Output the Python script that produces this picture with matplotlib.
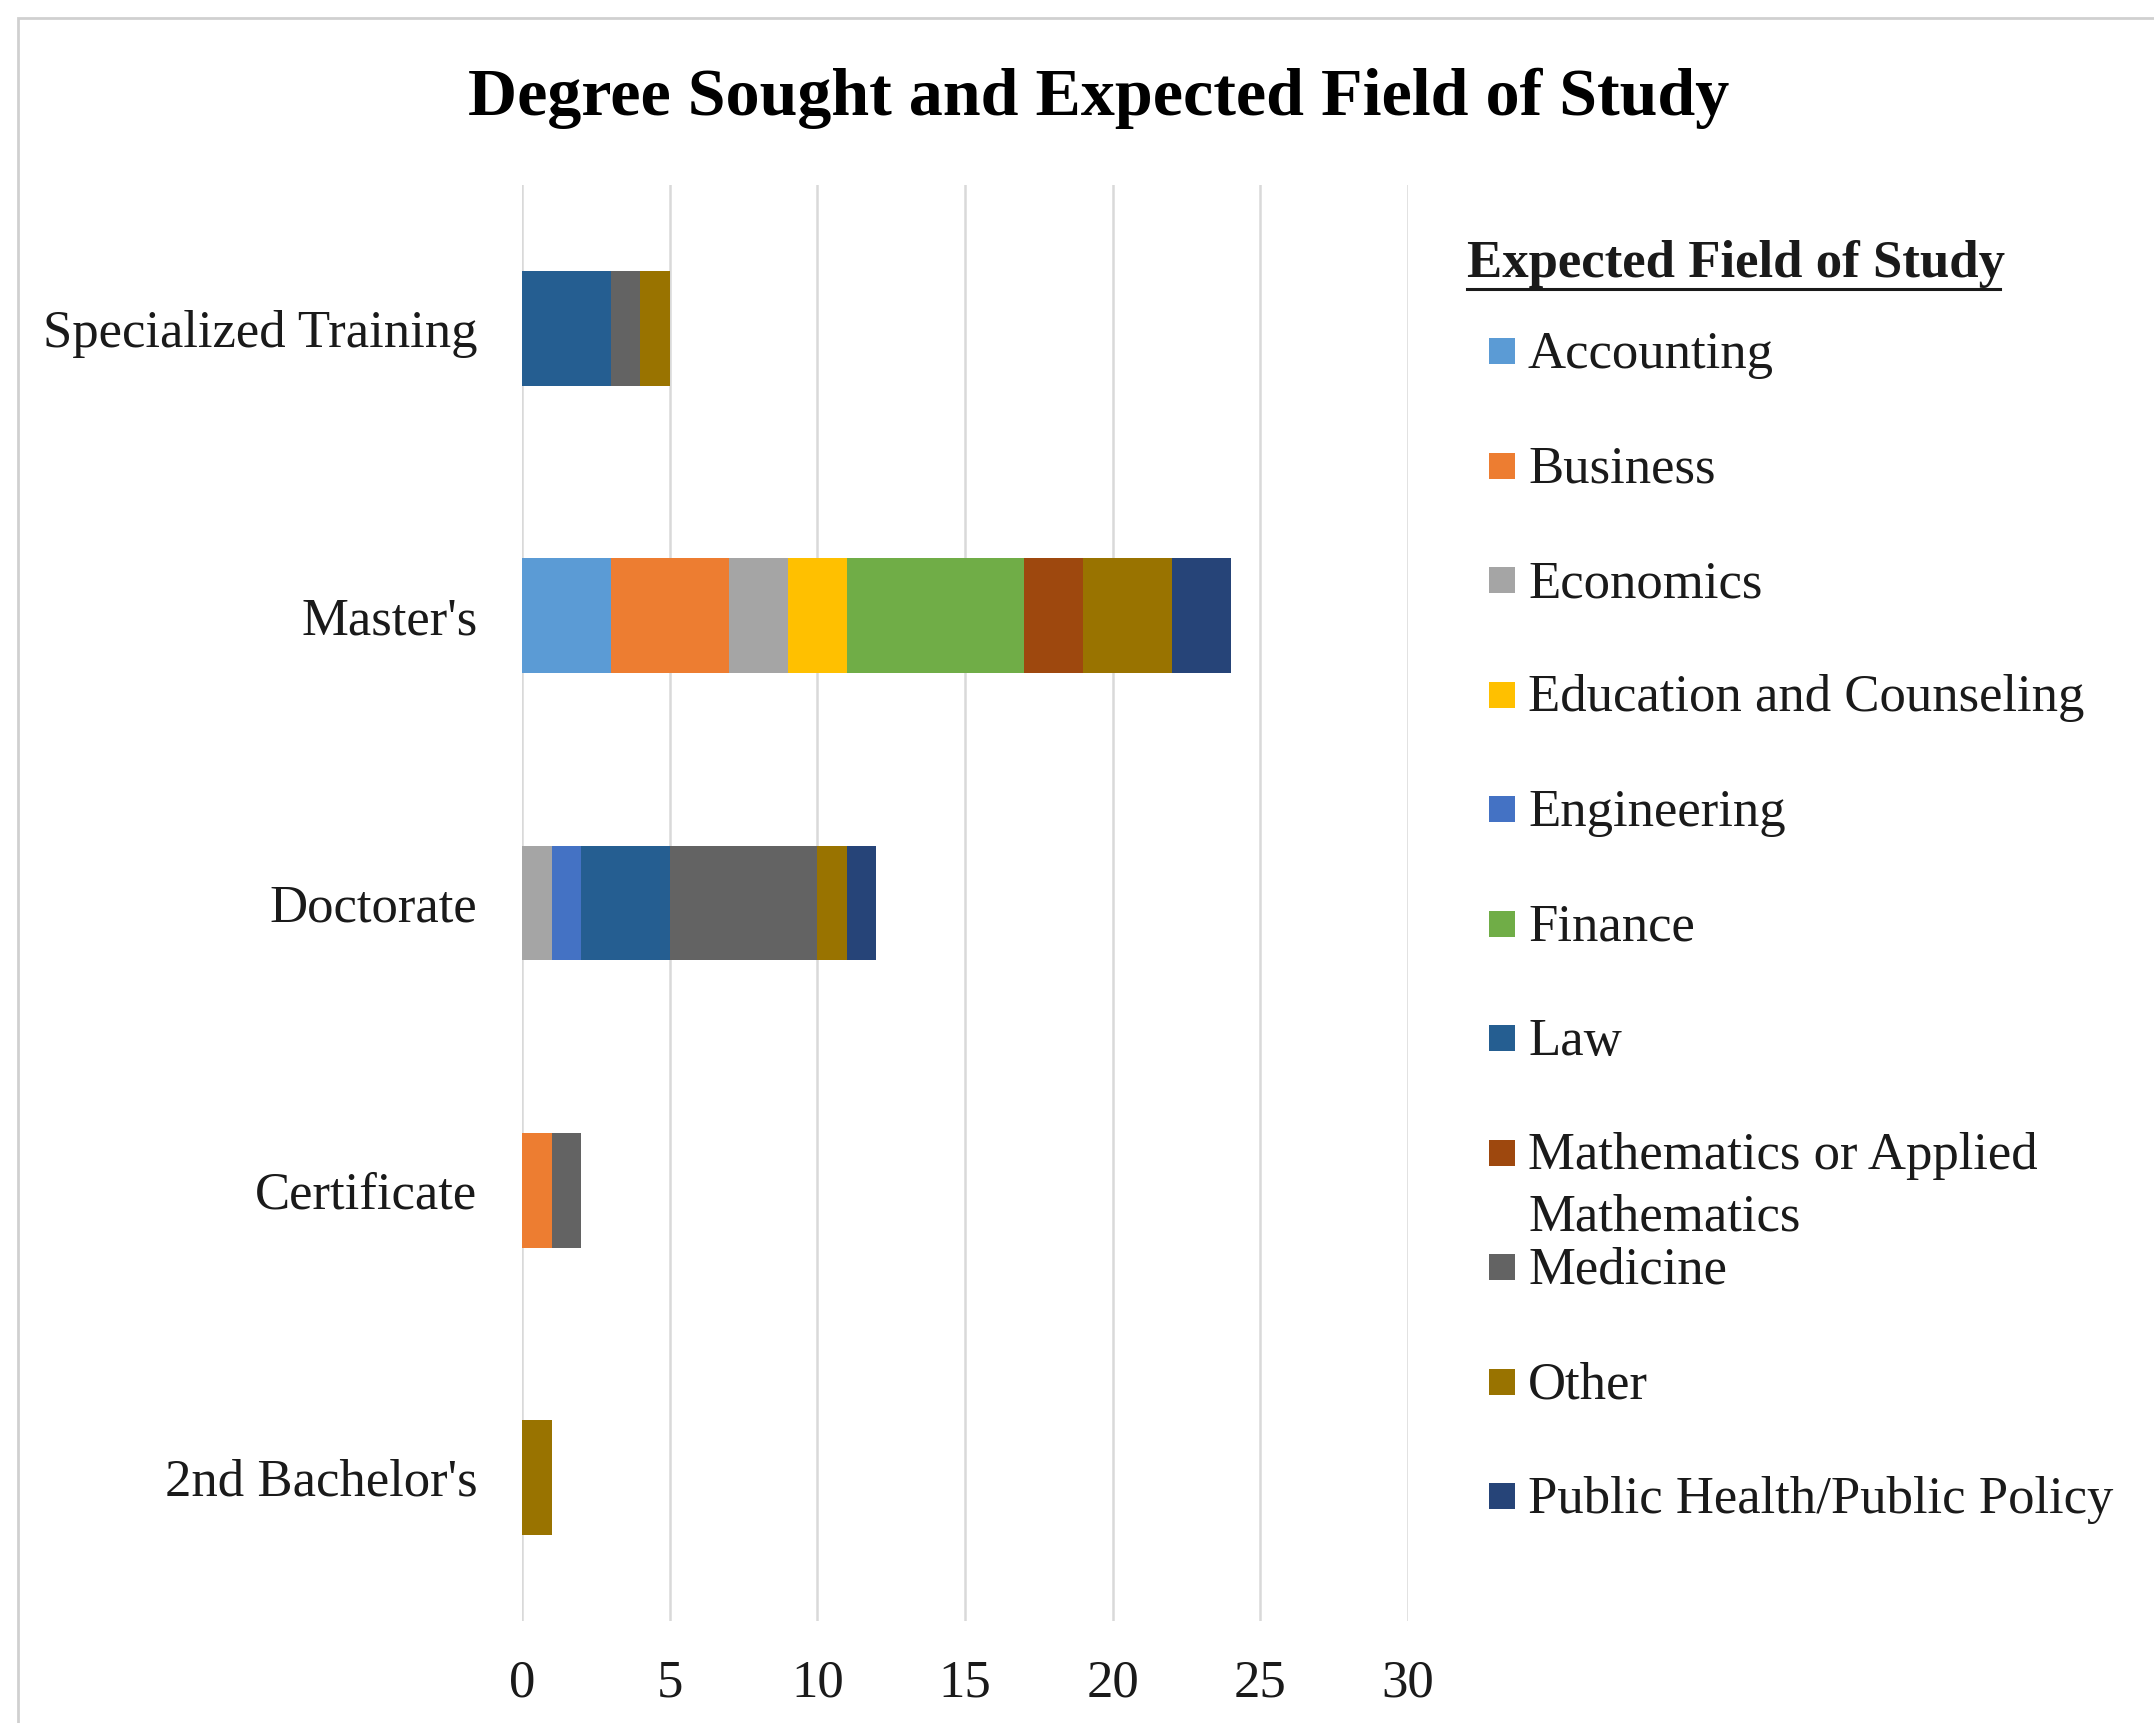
import numpy as np
import matplotlib.pyplot as plt
from matplotlib.patches import Rectangle

degrees = ["Specialized Training", "Master's", "Doctorate", "Certificate", "2nd Bachelor's"]
fields = ["Accounting", "Business", "Economics", "Education and Counseling",
          "Engineering", "Finance", "Law", "Mathematics or Applied\nMathematics",
          "Medicine", "Other", "Public Health/Public Policy"]
colors = ["#5B9BD5", "#ED7D31", "#A5A5A5", "#FFC000", "#4472C4", "#70AD47",
          "#255E91", "#9E480E", "#636363", "#997300", "#264478"]

# counts per field, one value per degree (same order as degrees)
accounting = [0, 3, 0, 0, 0]
business = [0, 4, 0, 1, 0]
economics = [0, 2, 1, 0, 0]
education = [0, 2, 0, 0, 0]
engineering = [0, 0, 1, 0, 0]
finance = [0, 6, 0, 0, 0]
law = [3, 0, 3, 0, 0]
mathematics = [0, 2, 0, 0, 0]
medicine = [1, 0, 5, 1, 0]
other = [1, 3, 1, 0, 1]
public_health = [0, 2, 1, 0, 0]
series = [accounting, business, economics, education, engineering, finance,
          law, mathematics, medicine, other, public_health]

xticks = [0, 5, 10, 15, 20, 25, 30]

plt.rcParams['font.family'] = ['Liberation Serif', 'DejaVu Serif']
txt = '#1a1a1a'
fs = 38

W, H = 2154, 1723
fig = plt.figure(figsize=(W / 100, H / 100), dpi=100)
fig.patch.set_facecolor('white')
ax = fig.add_axes([522 / W, 1 - 1621 / H, (1408 - 522) / W, (1621 - 185) / H])

y = np.arange(len(degrees))
left = np.zeros(len(degrees))
for vals, col in zip(series, colors):
    vals = np.array(vals, dtype=float)
    ax.barh(y, vals, left=left, height=0.4, color=col, zorder=3)
    left += vals

ax.set_xlim(0, 30)
ax.set_ylim(len(degrees) - 0.5, -0.5)
ax.set_xticks(xticks)
ax.set_xticklabels([str(t) for t in xticks], fontsize=fs)
ax.set_yticks(y)
ax.set_yticklabels(degrees, fontsize=fs)
ax.tick_params(axis='both', length=0, colors=txt)
ax.tick_params(axis='x', pad=28)
ax.tick_params(axis='y', pad=32)
ax.grid(axis='x', color='#D9D9D9', linewidth=1.8, zorder=0)
for s in ax.spines.values():
    s.set_visible(False)

fig.text(1099 / W, 1 - 98 / H, "Degree Sought and Expected Field of Study",
         ha='center', va='center', fontsize=49, fontweight='bold', color='black')

# legend drawn by hand so the wrapped entry keeps the regular spacing
fig.text(1467 / W, 1 - 264 / H, "Expected Field of Study", ha='left', va='center',
         fontsize=fs, fontweight='bold', color=txt)
fig.add_artist(plt.Line2D([1467 / W, 2000 / W], [1 - 289 / H, 1 - 289 / H],
                          color=txt, linewidth=2.2))
y0, step, sq = 355, 114.5, 26
for i, (name, col) in enumerate(zip(fields, colors)):
    yc = y0 + i * step
    fig.add_artist(Rectangle(((1502 - sq / 2) / W, 1 - (yc - 4 + sq / 2) / H),
                             sq / W, sq / H, facecolor=col, edgecolor='none'))
    fig.text(1528 / W, 1 - yc / H, name.split("\n")[0], ha='left', va='center',
             fontsize=fs, color=txt)
    if "\n" in name:
        fig.text(1528 / W, 1 - (yc + 61) / H, name.split("\n")[1], ha='left',
                 va='center', fontsize=fs, color=txt)

# outer chart border
fig.add_artist(Rectangle((18 / W, -0.01), 1.1, 1 - 18 / H + 0.01, fill=False,
                         edgecolor='#D0D0D0', linewidth=2))

fig.savefig("out.png", dpi=100, facecolor='white')
